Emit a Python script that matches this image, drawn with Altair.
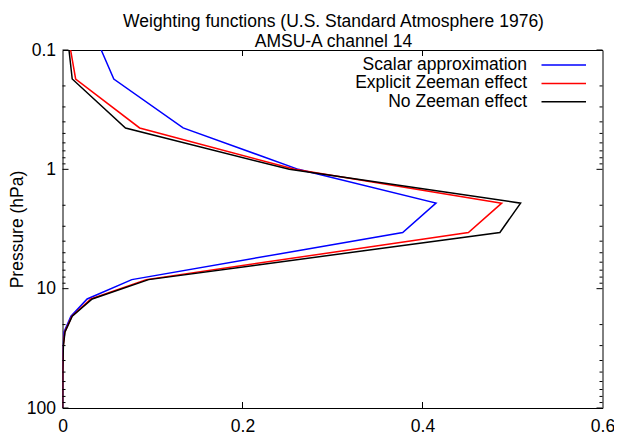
import altair as alt
import pandas as pd

# ---- data ----
pressure = [0.1, 0.175, 0.45, 1.0, 1.92, 3.38, 8.4, 12.2, 17.0, 23.0, 30.0, 50.0, 100.0]
scalar = [0.043, 0.057, 0.134, 0.262, 0.415, 0.378, 0.077, 0.0274, 0.0094, 0.0017, 0.0006, 0.0001, 0.0]
explicit = [0.009, 0.0146, 0.0857, 0.258, 0.488, 0.451, 0.093, 0.0315, 0.0105, 0.0025, 0.0009, 0.0002, 0.0]
nozeeman = [0.0072, 0.0108, 0.070, 0.252, 0.509, 0.486, 0.0957, 0.033, 0.0108, 0.0028, 0.001, 0.0002, 0.0]

series = ["Scalar approximation", "Explicit Zeeman effect", "No Zeeman effect"]
colors = ["#0000ff", "#ff0000", "#000000"]

x_labels = [0, 0.2, 0.4, 0.6]
x_inner_ticks = [0.2, 0.4]
y_major = [0.1, 1, 10, 100]
y_minor = [0.2, 0.3, 0.4, 0.5, 0.6, 0.7, 0.8, 0.9,
           2, 3, 4, 5, 6, 7, 8, 9,
           20, 30, 40, 50, 60, 70, 80, 90]

title_lines = ["Weighting functions (U.S. Standard Atmosphere 1976)", "AMSU-A channel 14"]
y_title = "Pressure (hPa)"

rows = []
for name, vals in zip(series, [scalar, explicit, nozeeman]):
    for p, v in zip(pressure, vals):
        rows.append({"series": name, "pressure": p, "value": v})
df = pd.DataFrame(rows)

FONT = "Liberation Sans"
FS = 17.5
W, H = 540, 358
PAD_L = 54.5

xscale = alt.Scale(domain=[0, 0.6], nice=False, zero=False)
yscale = alt.Scale(type="log", domain=[0.1, 100], reverse=True, nice=False)

x_axis = alt.Axis(orient="bottom", values=x_labels, ticks=False, domain=False, grid=False,
                  labelPadding=9, format="~g", labelFlush=False, title=None)
y_axis = alt.Axis(orient="left", values=y_major, ticks=False, domain=False, grid=False,
                  labelPadding=7, format="~g", labelFlush=False,
                  title=y_title, titleX=-40, titleY=H / 2, titleAngle=270,
                  titleBaseline="alphabetic", titleAlign="center")

layers = []

# the three weighting-function curves (blue first, black on top)
for name, col in zip(series, colors):
    layers.append(
        alt.Chart(df[df["series"] == name])
        .mark_line(color=col, strokeWidth=1.5, clip=True)
        .encode(
            x=alt.X("value:Q", scale=xscale, axis=x_axis),
            y=alt.Y("pressure:Q", scale=yscale, axis=y_axis),
            order=alt.Order("pressure:Q"),
        )
    )

# inward tick marks (gnuplot style), positioned through the scales
ymaj_df = pd.DataFrame({"tick": y_major})
ymin_df = pd.DataFrame({"tick": y_minor})
xt_df = pd.DataFrame({"tick": x_inner_ticks})

for tdf, size in [(ymaj_df, 6), (ymin_df, 3)]:
    ych = alt.Y("tick:Q", scale=yscale, axis=y_axis)
    layers.append(alt.Chart(tdf).mark_rule(color="black", strokeWidth=1)
                  .encode(y=ych, x=alt.value(0), x2=alt.value(size)))
    layers.append(alt.Chart(tdf).mark_rule(color="black", strokeWidth=1)
                  .encode(y=ych, x=alt.value(W - size), x2=alt.value(W)))

xch = alt.X("tick:Q", scale=xscale, axis=x_axis)
layers.append(alt.Chart(xt_df).mark_rule(color="black", strokeWidth=1)
              .encode(x=xch, y=alt.value(H - 6), y2=alt.value(H)))
layers.append(alt.Chart(xt_df).mark_rule(color="black", strokeWidth=1)
              .encode(x=xch, y=alt.value(0), y2=alt.value(6)))

# legend (gnuplot style: label right-aligned, sample line to the right)
for i, (name, col) in enumerate(zip(series, colors)):
    row_y = 15 + 18.4 * i
    ldata = alt.InlineData(values=[{"series": name}])
    layers.append(
        alt.Chart(ldata)
        .mark_text(align="right", baseline="middle", font=FONT, fontSize=FS, color="black")
        .encode(x=alt.value(464.5), y=alt.value(row_y), text="series:N")
    )
    layers.append(
        alt.Chart(ldata)
        .mark_rule(color=col, strokeWidth=1.5)
        .encode(x=alt.value(479), x2=alt.value(523.5), y=alt.value(row_y))
    )

# two-line title above the plot, centred on the plot area
for j, line in enumerate(title_lines):
    tdata = alt.InlineData(values=[{"t": line}])
    layers.append(
        alt.Chart(tdata)
        .mark_text(align="center", baseline="alphabetic", font=FONT, fontSize=FS, color="black")
        .encode(x=alt.value(W / 2 + 1), y=alt.value(-23.5 + 20 * j), text="t:N")
    )

chart = (
    alt.layer(*layers)
    .properties(
        width=W,
        height=H,
        autosize=alt.AutoSizeParams(type="none"),
        padding={"left": PAD_L, "top": 42, "right": 606 - PAD_L - W, "bottom": 26},
    )
    .configure_view(stroke="black", strokeWidth=1)
    .configure_axis(
        labelFont=FONT,
        labelFontSize=FS,
        labelColor="black",
        titleFont=FONT,
        titleFontSize=FS,
        titleFontWeight="normal",
        titleColor="black",
    )
)

chart.save("out.html", embed_options={"renderer": "svg", "actions": False})
